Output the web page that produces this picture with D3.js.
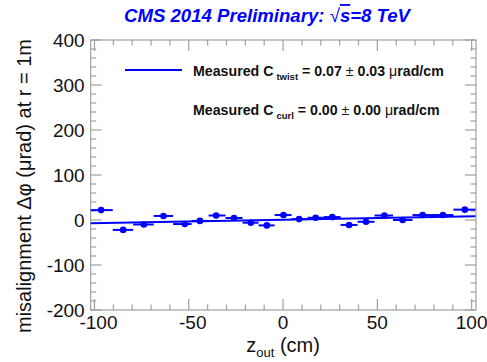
<!DOCTYPE html>
<html>
<head>
<meta charset="utf-8">
<script src="https://cdn.jsdelivr.net/npm/d3@7"></script>
<style>
  html, body { margin: 0; padding: 0; background: #fff; }
  svg { display: block; }
  text { font-family: "Liberation Sans", Arial, Helvetica, sans-serif; }
</style>
</head>
<body>
<div id="chart"></div>
<script>
// ---------------- data ----------------
const zCenters = [-96.5, -84.8, -73.8, -63.4, -52.1, -44.1, -35.5, -26.0, -17.1, -8.6, 0.2,
                  8.5, 17.3, 26.1, 35.0, 44.0, 53.7, 63.4, 74.0, 84.8, 96.4];
const binEdges = [-102, -90.3, -79.5, -68.6, -58.3, -48.5, -39.5, -30.5, -21.5, -13, -4.5,
                  4.5, 13, 21.5, 30.5, 39.5, 48.5, 58.3, 68.6, 79.5, 90.3, 102];
const dphi = [22, -22, -10, 9, -9, -2, 10, 4.5, -6, -12, 11, 2, 5, 6.5, -11, -4, 10, 0, 11, 11, 23];
const dphiErr = [2, 2, 2, 2, 2, 2, 2, 2, 2, 2, 2, 2, 2, 2, 2, 2, 2, 2, 2, 2, 2];
const fitZ = [-102, 102];
const fitValues = [-7, 8.5];
const xTicks = [-100, -50, 0, 50, 100];
const yTicks = [-200, -100, 0, 100, 200, 300, 400];
const xDomain = [-102, 102.3];
const yDomain = [-200, 400];

// ---------------- layout ----------------
const W = 487, H = 362;
const frame = { left: 90.7, right: 476, top: 40, bottom: 310 };
const blue = "#0000ff";
const axisGrey = "#a0a0a0";

const svg = d3.select("#chart").append("svg").attr("width", W).attr("height", H);

const x = d3.scaleLinear().domain(xDomain).range([frame.left, frame.right]);
const y = d3.scaleLinear().domain(yDomain).range([frame.bottom, frame.top]);

// frame
svg.append("rect")
  .attr("x", frame.left).attr("y", frame.top)
  .attr("width", frame.right - frame.left).attr("height", frame.bottom - frame.top)
  .attr("fill", "none").attr("stroke", axisGrey).attr("stroke-width", 1.2);

// ticks
const xMinor = d3.range(-100, 101, 10);
const yMinor = d3.range(-200, 401, 20);
const tickG = svg.append("g").attr("stroke", axisGrey).attr("stroke-width", 1.2);
xMinor.forEach(v => {
  const major = v % 50 === 0;
  const len = major ? 11 : 5.5;
  tickG.append("line").attr("x1", x(v)).attr("x2", x(v)).attr("y1", frame.bottom).attr("y2", frame.bottom - len);
  tickG.append("line").attr("x1", x(v)).attr("x2", x(v)).attr("y1", frame.top).attr("y2", frame.top + len);
});
yMinor.forEach(v => {
  const major = v % 100 === 0;
  const len = major ? 11 : 5.5;
  tickG.append("line").attr("y1", y(v)).attr("y2", y(v)).attr("x1", frame.left).attr("x2", frame.left + len);
  tickG.append("line").attr("y1", y(v)).attr("y2", y(v)).attr("x1", frame.right).attr("x2", frame.right - len);
});

// tick labels
svg.append("g").selectAll("text").data(yTicks).join("text")
  .attr("x", frame.left - 6).attr("y", d => y(d)).attr("dy", "0.35em")
  .attr("text-anchor", "end").attr("font-size", 19).attr("fill", "#111")
  .text(d => d);
svg.append("g").selectAll("text").data(xTicks).join("text")
  .attr("x", d => x(d) + (d < 0 ? 4 : 0)).attr("y", 329)
  .attr("text-anchor", "middle").attr("font-size", 19).attr("fill", "#111")
  .text(d => d);

// axis titles
const xt = svg.append("text").attr("x", x(0)).attr("y", 352)
  .attr("text-anchor", "middle").attr("font-size", 20).attr("fill", "#111");
xt.append("tspan").text("z");
xt.append("tspan").attr("font-size", 13).attr("dy", 5).text("out");
xt.append("tspan").attr("dy", -5).text(" (cm)");

svg.append("text")
  .attr("transform", `translate(31,186) rotate(-90)`)
  .attr("text-anchor", "middle").attr("font-size", 20).attr("fill", "#111")
  .text("misalignment \u0394\u03C6 (\u03BCrad) at r = 1m");

// title
const title = svg.append("text").attr("x", 267).attr("y", 22)
  .attr("text-anchor", "middle").attr("font-size", 18.6)
  .attr("font-weight", "bold").attr("font-style", "italic").attr("fill", blue);
title.append("tspan").text("CMS 2014 Preliminary: ");
title.append("tspan").attr("font-style", "normal").attr("font-weight", "normal").text("\u221A");
title.append("tspan").style("text-decoration", "overline").text("s");
title.append("tspan").text("=8 TeV");

// fit line
svg.append("line")
  .attr("x1", x(fitZ[0])).attr("x2", x(fitZ[1]))
  .attr("y1", y(fitValues[0])).attr("y2", y(fitValues[1]))
  .attr("stroke", blue).attr("stroke-width", 2);

// data points
const pts = zCenters.map((z, i) => ({ z, v: dphi[i], e: dphiErr[i], lo: binEdges[i], hi: binEdges[i + 1] }));
const pg = svg.append("g");
pg.selectAll("line.h").data(pts).join("line").attr("class", "h")
  .attr("x1", d => x(d.lo)).attr("x2", d => x(d.hi))
  .attr("y1", d => y(d.v)).attr("y2", d => y(d.v))
  .attr("stroke", blue).attr("stroke-width", 2);
pg.selectAll("line.v").data(pts).join("line").attr("class", "v")
  .attr("x1", d => x(d.z)).attr("x2", d => x(d.z))
  .attr("y1", d => y(d.v - d.e)).attr("y2", d => y(d.v + d.e))
  .attr("stroke", blue).attr("stroke-width", 2);
pg.selectAll("circle").data(pts).join("circle")
  .attr("cx", d => x(d.z)).attr("cy", d => y(d.v)).attr("r", 3.3)
  .attr("fill", blue);

// legend
svg.append("line").attr("x1", 125).attr("x2", 182).attr("y1", 70).attr("y2", 70)
  .attr("stroke", blue).attr("stroke-width", 2);
function legendText(yPos, sub, val) {
  const t = svg.append("text").attr("x", 193).attr("y", yPos)
    .attr("font-size", 14.2).attr("font-weight", "bold").attr("fill", "#111");
  t.append("tspan").text("Measured C");
  t.append("tspan").attr("font-size", 9.5).attr("dy", 4).attr("dx", 3).text(sub);
  t.append("tspan").attr("dy", -4).text(" = " + val[0] + " ");
  t.append("tspan").attr("font-weight", "normal").text("\u00B1");
  t.append("tspan").text(" " + val[1] + " ");
  t.append("tspan").attr("font-weight", "normal").text("\u03BC");
  t.append("tspan").text("rad/cm");
}
legendText(76, "twist", ["0.07", "0.03"]);
legendText(115, "curl", ["0.00", "0.00"]);
</script>
</body>
</html>
